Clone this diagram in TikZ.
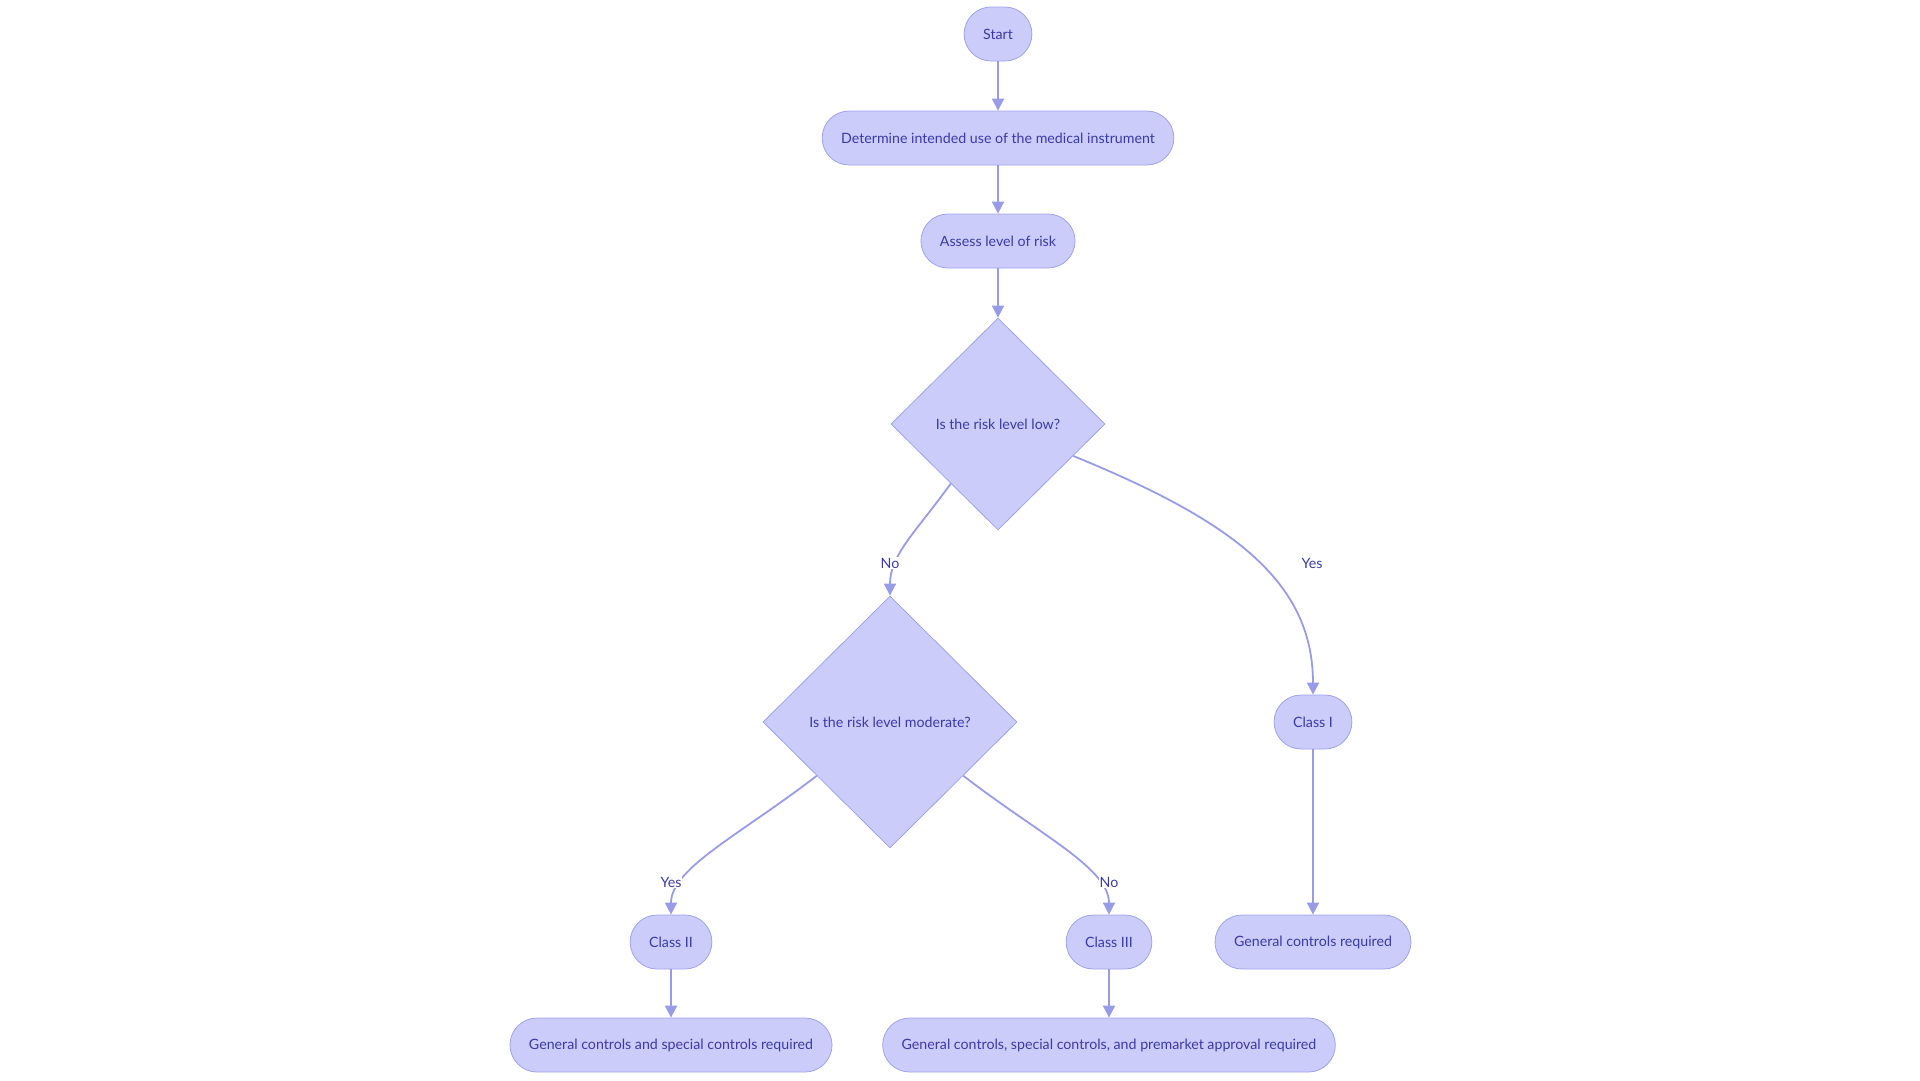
\documentclass[tikz,border=0pt]{standalone}
\usepackage{fontspec}
\setmainfont{Lato}
\usepackage{tikz}
\usetikzlibrary{shapes.geometric,arrows.meta,calc}
\definecolor{boxfill}{RGB}{203,204,250}
\definecolor{boxline}{RGB}{160,162,235}
\definecolor{flowline}{RGB}{152,155,232}
\definecolor{boxtext}{RGB}{58,58,168}

\tikzset{
	stepbox/.style={draw=boxline,fill=boxfill,text=boxtext,rectangle,rounded corners=27pt,minimum height=54pt,inner xsep=19pt,line width=0.8pt,font=\fontsize{14.2}{17}\selectfont},
	askbox/.style={draw=boxline,fill=boxfill,text=boxtext,diamond,aspect=1,inner sep=0pt,line width=0.8pt,font=\fontsize{14.2}{17}\selectfont},
	flow/.style={draw=flowline,line width=1.8pt,-{Triangle[length=12pt,width=12pt]}},
	answer/.style={fill=white,text=boxtext,inner sep=1pt,font=\fontsize{14.2}{17}\selectfont}
}

\begin{document}
\begin{tikzpicture}[x=1pt,y=-1pt]
	\useasboundingbox (0,0) rectangle (1920,1080);
	\node[stepbox] (start) at (998,34) {Start};
	\node[stepbox] (use) at (998,138) {Determine intended use of the medical instrument};
	\node[stepbox] (risk) at (998,241) {Assess level of risk};
	\node[askbox,minimum width=214pt,minimum height=212pt] (low) at (998,424) {Is the risk level low?};
	\node[askbox,minimum width=254pt,minimum height=252pt] (moderate) at (890,722) {Is the risk level moderate?};
	\node[stepbox] (one) at (1313,722) {Class I};
	\node[stepbox] (two) at (671,942) {Class II};
	\node[stepbox] (three) at (1109,942) {Class III};
	\node[stepbox] (onectl) at (1313,942) {General controls required};
	\node[stepbox] (twoctl) at (671,1045) {General controls and special controls required};
	\node[stepbox] (threectl) at (1109,1045) {General controls, special controls, and premarket approval required};

	\draw[flow] (start) -- (use);
	\draw[flow] (use) -- (risk);
	\draw[flow] (risk) -- (low);
	\draw[flow] ($(low.south)!0.44!(low.west)$) .. controls (915,533) and (890,555) .. (moderate.north);
	\draw[flow] ($(low.south)!0.70!(low.east)$) .. controls (1230,520) and (1313,580) .. (one.north);
	\draw[flow] ($(moderate.south)!0.575!(moderate.west)$) .. controls (740,835) and (671,868) .. (two.north);
	\draw[flow] ($(moderate.south)!0.575!(moderate.east)$) .. controls (1040,835) and (1109,868) .. (three.north);
	\draw[flow] (one) -- (onectl);
	\draw[flow] (two) -- (twoctl);
	\draw[flow] (three) -- (threectl);

	\node[answer] (lowno) at (890,563) {No};
	\node[answer] (lowyes) at (1312,563) {Yes};
	\node[answer] (modyes) at (671,882) {Yes};
	\node[answer] (modno) at (1109,882) {No};
\end{tikzpicture}
\end{document}
